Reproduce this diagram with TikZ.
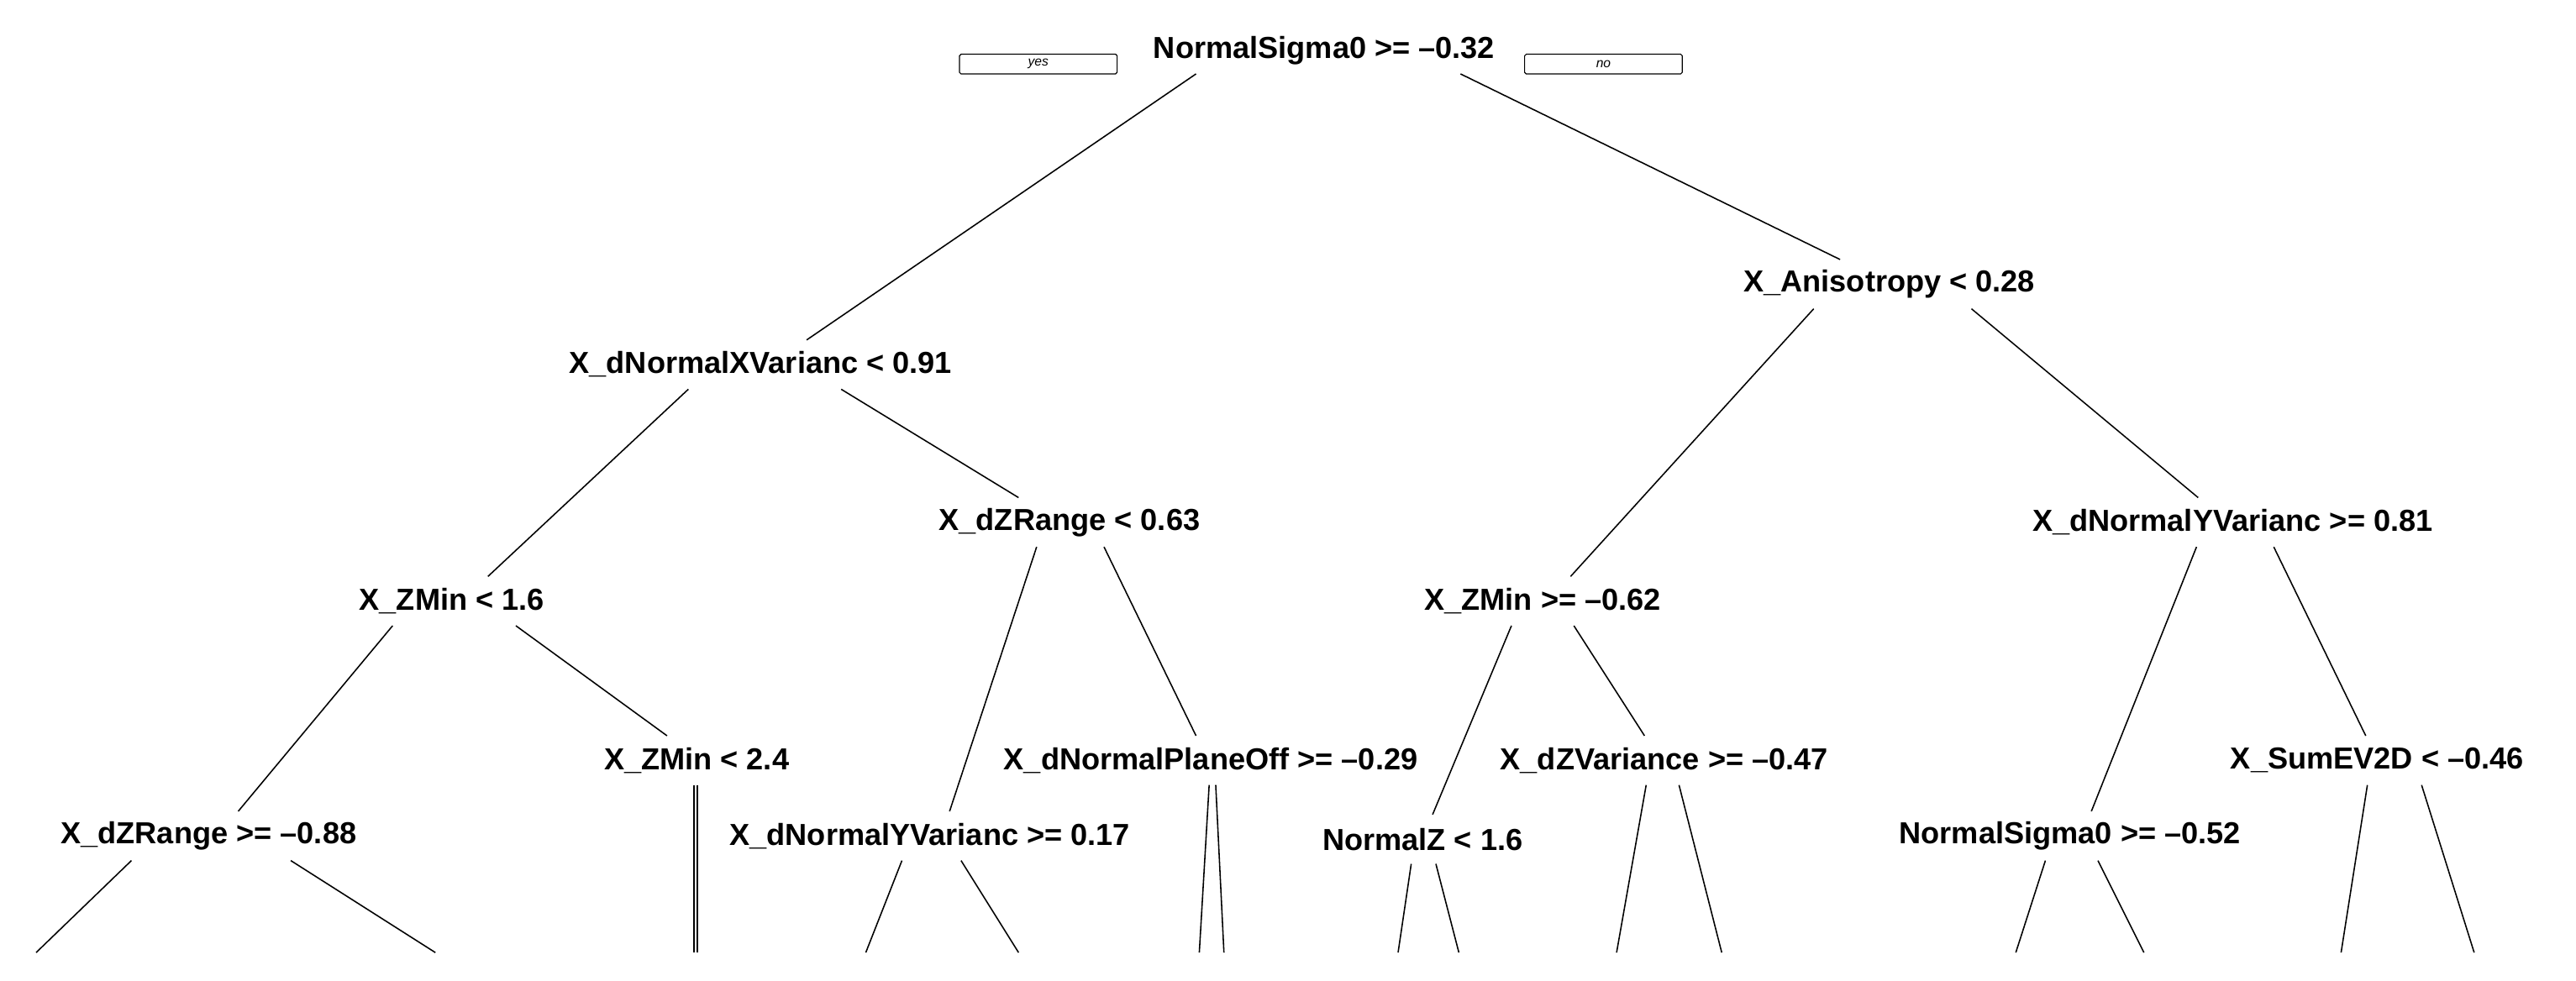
\documentclass[tikz,border=0pt]{standalone}
\usepackage{fontspec}
\setmainfont{Liberation Sans}
\usetikzlibrary{calc}
\begin{document}
\begin{tikzpicture}[x=1pt,y=-1pt,
  split/.style={font=\bfseries\fontsize{18.5}{20}\selectfont, inner sep=0pt, minimum height=30pt},
  yn/.style={draw, rounded corners=1pt, line width=0.6pt, minimum width=96pt, minimum height=12pt, inner sep=0pt, font=\itshape\fontsize{8}{9}\selectfont},
  br/.style={line width=0.8pt}]
\useasboundingbox (0,0) rectangle (1568,597);
\node[split] (root) at (806,31) {NormalSigma0 >= –0.32};
\node[yn] (yes) at (632,39) {yes};
\node[yn] (no) at (976,39) {no};
\node[split] (A) at (463,222) {X\_dNormalXVarianc < 0.91};
\node[split] (B) at (1150,173) {X\_Anisotropy < 0.28};
\node[split] (A1) at (275,366) {X\_ZMin < 1.6};
\node[split] (A2) at (651,318) {X\_dZRange < 0.63};
\node[split] (A1a) at (127,509) {X\_dZRange >= –0.88};
\node[split] (A1b) at (424,463) {X\_ZMin < 2.4};
\node[split] (A2a) at (566,509) {X\_dNormalYVarianc >= 0.17};
\node[split] (A2b) at (737,463) {X\_dNormalPlaneOff >= –0.29};
\node[split] (B1) at (939,366) {X\_ZMin >= –0.62};
\node[split] (B2) at (1359,318) {X\_dNormalYVarianc >= 0.81};
\node[split] (B1a) at (866,511) {NormalZ < 1.6};
\node[split] (B1b) at (1013,463) {X\_dZVariance >= –0.47};
\node[split] (B2a) at (1260,509) {NormalSigma0 >= –0.52};
\node[split] (B2b) at (1447,463) {X\_SumEV2D < –0.46};
\foreach \n/\x in {l1/22,l2/265,l3/422.5,l4/424.5,l5/527,l6/620,l7/730,l8/745,l9/851,l10/888,l11/984,l12/1048,l13/1227,l14/1305,l15/1425,l16/1506}
  \coordinate (\n) at (\x,580);
\begin{scope}[br]
\draw ($(root)+(-78,14)$) -- ($(A)+(28,-15)$);
\draw ($(root)+(83,14)$) -- ($(B)+(-30,-15)$);
\draw ($(A)+(-44,15)$) -- ($(A1)+(22,-15)$);
\draw ($(A)+(49,15)$) -- ($(A2)+(-31,-15)$);
\draw ($(A1)+(-36,15)$) -- ($(A1a)+(18,-15)$);
\draw ($(A1)+(39,15)$) -- ($(A1b)+(-18,-15)$);
\draw ($(A2)+(-20,15)$) -- ($(A2a)+(12,-15)$);
\draw ($(A2)+(21,15)$) -- ($(A2b)+(-9,-15)$);
\draw ($(A1a)+(-47,15)$) -- (l1);
\draw ($(A1a)+(50,15)$) -- (l2);
\draw ($(A1b)+(-1.5,15)$) -- (l3);
\draw ($(A1b)+(0.5,15)$) -- (l4);
\draw ($(A2a)+(-17,15)$) -- (l5);
\draw ($(A2a)+(19,15)$) -- (l6);
\draw ($(A2b)+(-1,15)$) -- (l7);
\draw ($(A2b)+(3,15)$) -- (l8);
\draw ($(B)+(-46,15)$) -- ($(B1)+(17,-15)$);
\draw ($(B)+(50,15)$) -- ($(B2)+(-21,-15)$);
\draw ($(B1)+(-19,15)$) -- ($(B1a)+(6,-15)$);
\draw ($(B1)+(19,15)$) -- ($(B1b)+(-12,-15)$);
\draw ($(B2)+(-22,15)$) -- ($(B2a)+(13,-15)$);
\draw ($(B2)+(25,15)$) -- ($(B2b)+(-7,-15)$);
\draw ($(B1a)+(-7,15)$) -- (l9);
\draw ($(B1a)+(8,15)$) -- (l10);
\draw ($(B1b)+(-11,15)$) -- (l11);
\draw ($(B1b)+(9,15)$) -- (l12);
\draw ($(B2a)+(-15,15)$) -- (l13);
\draw ($(B2a)+(17,15)$) -- (l14);
\draw ($(B2b)+(-6,15)$) -- (l15);
\draw ($(B2b)+(27,15)$) -- (l16);
\end{scope}
\end{tikzpicture}
\end{document}
